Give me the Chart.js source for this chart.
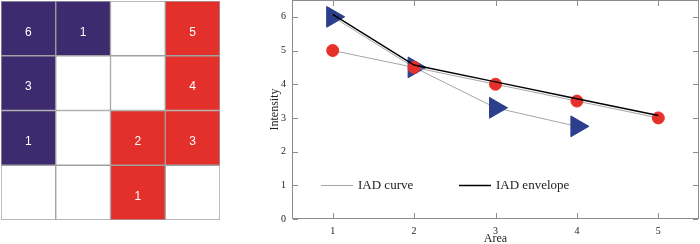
<!DOCTYPE html>
<html><head><meta charset="utf-8">
<script src="https://cdn.jsdelivr.net/npm/chart.js@4/dist/chart.umd.min.js"></script>
<style>
html,body{margin:0;padding:0;background:#fff;overflow:hidden;width:700px;height:244px}
#grid{position:absolute;left:0;top:0}
#line{position:absolute;left:250px;top:0}
</style></head><body>
<canvas id="grid" width="221" height="221"></canvas>
<canvas id="line" width="450" height="244"></canvas>
<script>
// ---- data ----
const gridColumns = ['c1','c2','c3','c4'];
// rows top to bottom; 'P' purple, 'R' red, '' empty
const gridClasses = [
  ['P','P','','R'],
  ['P','','','R'],
  ['P','','R','R'],
  ['','','R','']
];
const gridNumbers = [
  ['6','1','','5'],
  ['3','','','4'],
  ['1','','2','3'],
  ['','','1','']
];
const areas = [1,2,3,4,5];
const triangleSeries = [6, 4.5, 3.3, 2.75];
const circleSeries = [5, 4.5, 4, 3.5, 3];
const envelopeSeries = [6.07, 4.57, 4.07, 3.57, 3.07];
const yTicks = [0,1,2,3,4,5,6];
const legendLabels = ['IAD curve','IAD envelope'];

// ---- grid chart ----
const classColor = {P:'#3e2a6e', R:'#e3302b', '':'#ffffff'};
const gridDatasets = [];
for (let r = gridClasses.length - 1; r >= 0; r--) {
  gridDatasets.push({
    data: gridColumns.map(() => 1),
    backgroundColor: gridClasses[r].map(c => classColor[c]),
    borderColor: '#a0a0a0',
    borderWidth: 1,
    borderSkipped: false,
    barPercentage: 1,
    categoryPercentage: 1,
    numbers: gridNumbers[r]
  });
}
const cellText = {
  id: 'cellText',
  afterDatasetsDraw(chart) {
    const ctx = chart.ctx;
    ctx.save();
    ctx.fillStyle = '#ffffff';
    ctx.font = '12px "Liberation Sans", Arial, sans-serif';
    ctx.textAlign = 'center';
    ctx.textBaseline = 'middle';
    chart.data.datasets.forEach((ds, i) => {
      chart.getDatasetMeta(i).data.forEach((el, j) => {
        const t = ds.numbers[j];
        if (t) ctx.fillText(t, el.x, (el.y + el.base) / 2 + 4);
      });
    });
    ctx.restore();
  }
};
new Chart(document.getElementById('grid'), {
  type: 'bar',
  data: { labels: gridColumns, datasets: gridDatasets },
  options: {
    responsive: false, animation: false, events: [],
    layout: { padding: 1 },
    plugins: { legend: { display: false }, tooltip: { enabled: false } },
    scales: {
      x: { display: false, stacked: true },
      y: { display: false, stacked: true, min: 0, max: gridClasses.length }
    }
  },
  plugins: [cellText]
});

// ---- line chart ----
const serif = '"Liberation Serif", "Times New Roman", serif';
const frameColor = '#8c8c8c';
const frameAndLegend = {
  id: 'frameAndLegend',
  afterDraw(chart) {
    const {ctx, chartArea: a, scales: {x, y}} = chart;
    ctx.save();
    ctx.fillStyle = frameColor;
    const L = Math.round(a.left), R = Math.round(a.right) - 1;
    const T = Math.round(a.top), B = Math.round(a.bottom) - 1;
    ctx.fillRect(L, T, R - L + 1, 1);
    ctx.fillRect(L, B, R - L + 1, 1);
    ctx.fillRect(L, T, 1, B - T + 1);
    ctx.fillRect(R, T, 1, B - T + 1);
    x.ticks.forEach(t => {
      const px = Math.round(x.getPixelForValue(t.value));
      ctx.fillRect(px, B - 5, 1, 5);
      ctx.fillRect(px, T + 1, 1, 5);
    });
    y.ticks.forEach(t => {
      const py = Math.round(y.getPixelForValue(t.value));
      ctx.fillRect(L + 1, py, 5, 1);
      ctx.fillRect(R - 5, py, 5, 1);
    });
    // legend inside the plot
    const ly = Math.round(y.getPixelForValue(1)) + 0.5;
    const items = [
      {label: legendLabels[0], color: '#a6a6a6', w: 1, x0: 29},
      {label: legendLabels[1], color: '#000000', w: 1.5, x0: 167}
    ];
    ctx.font = '13px ' + serif;
    ctx.textBaseline = 'middle';
    ctx.textAlign = 'left';
    items.forEach(it => {
      ctx.beginPath();
      ctx.strokeStyle = it.color;
      ctx.lineWidth = it.w;
      ctx.moveTo(a.left + it.x0, ly);
      ctx.lineTo(a.left + it.x0 + 32, ly);
      ctx.stroke();
      ctx.fillStyle = '#222';
      ctx.fillText(it.label, a.left + it.x0 + 37, ly);
    });
    ctx.restore();
  }
};
const noPad = s => { s.paddingTop = 0; s.paddingBottom = 0; s.paddingLeft = 0; s.paddingRight = 0; };

new Chart(document.getElementById('line'), {
  type: 'line',
  data: {
    datasets: [
      {
        label: legendLabels[1],
        data: areas.map((a, i) => ({x: a, y: envelopeSeries[i]})),
        borderColor: '#000000', borderWidth: 1.5, pointRadius: 0, tension: 0
      },
      {
        label: legendLabels[0],
        data: areas.map((a, i) => ({x: a, y: circleSeries[i]})),
        borderColor: '#a6a6a6', borderWidth: 1, tension: 0,
        pointStyle: 'circle', pointRadius: 6,
        pointBackgroundColor: '#e8302a', pointBorderColor: '#e8302a', pointBorderWidth: 1
      },
      {
        label: legendLabels[0],
        data: triangleSeries.map((v, i) => ({x: areas[i], y: v})),
        borderColor: '#a6a6a6', borderWidth: 1, tension: 0,
        pointStyle: 'triangle', pointRotation: 90, pointRadius: 12,
        pointBackgroundColor: '#2b3f8c', pointBorderColor: '#2b3f8c', pointBorderWidth: 1
      }
    ]
  },
  options: {
    responsive: false, animation: false, events: [],
    layout: { autoPadding: false, padding: { top: 0, right: 1, left: 0, bottom: 0 } },
    plugins: { legend: { display: false }, tooltip: { enabled: false } },
    scales: {
      x: {
        type: 'linear', min: 0.5, max: 5.5,
        afterBuildTicks: s => { s.ticks = areas.map(v => ({value: v})); },
        afterFit: s => { s.height = 25; noPad(s); },
        grid: { display: false, drawTicks: false },
        border: { display: false },
        ticks: { font: { family: serif, size: 10 }, color: '#222', padding: 6 },
        title: { display: true, text: 'Area', font: { family: serif, size: 12 }, color: '#222', padding: { top: 0, bottom: -2 } }
      },
      y: {
        min: 0, max: 6.5,
        afterBuildTicks: s => { s.ticks = yTicks.map(v => ({value: v})); },
        afterFit: s => { s.width = 42; noPad(s); },
        grid: { display: false, drawTicks: false },
        border: { display: false },
        ticks: { font: { family: serif, size: 10 }, color: '#222', padding: 6 },
        title: { display: true, text: 'Intensity', font: { family: serif, size: 12 }, color: '#222', padding: { top: 18, bottom: 0 } }
      }
    }
  },
  plugins: [frameAndLegend]
});
</script>
</body></html>
